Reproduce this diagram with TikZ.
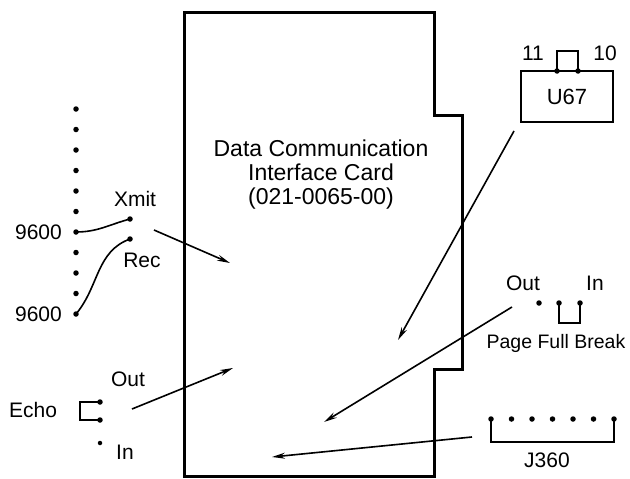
\documentclass[tikz,border=0pt]{standalone}
\usepackage{fontspec}
\setmainfont{Liberation Sans}
\usetikzlibrary{positioning,arrows.meta}

\begin{document}
\begin{tikzpicture}[x=1pt,y=-1pt]
	% Define styles
	\tikzstyle{contact} = [circle, fill=black, inner sep=0pt, minimum size=5.5pt]
	\tikzstyle{lbl} = [inner sep=0pt, font=\fontsize{21}{24}\selectfont]
	\tikzstyle{cardtitle} = [lbl, align=center, font=\fontsize{23}{24}\selectfont]
	\tikzstyle{chip} = [rectangle, draw, line width=1.6pt, minimum width=92pt, minimum height=51pt, font=\fontsize{22}{24}\selectfont]
	\tikzstyle{wire} = [line width=1.6pt]
	\tikzstyle{arrow} = [line width=1.6pt,-{Stealth[length=13pt,width=6pt]}]
	\tikzstyle{cardedge} = [line width=3pt, line join=miter]
	
	\useasboundingbox (0,0) rectangle (630,479);
	
	% Card outline
	\draw [cardedge] (184,12) -- (434,12) -- (434,115) -- (462,115) -- (462,369)
		-- (434,369) -- (434,476) -- (184,476) -- cycle;
	\node [cardtitle] (cardname) at (321,175) {Data Communication\\Interface Card\\(021-0065-00)};
	
	% Baud rate strip
	\foreach \i in {0,...,10}
		\node [contact] (rate\i) at (76,109+20.5*\i) {};
	\node [lbl, left=11pt of rate6] (rateA) {9600};
	\node [lbl, left=11pt of rate10] (rateB) {9600};
	\node [contact] (xmit) at (130,219) {};
	\node [contact] (rec) at (130,239) {};
	\node [lbl] (xmitname) at (135,199) {Xmit};
	\node [lbl] (recname) at (142,260) {Rec};
	
	% Echo
	\node [lbl] (echoname) at (33,410) {Echo};
	\node [contact] (echoOut) at (100,402) {};
	\node [contact] (echoMid) at (100,420) {};
	\node [contact, minimum size=4.5pt] (echoIn) at (100,443) {};
	\node [lbl] (echoOutname) at (128,379) {Out};
	\node [lbl] (echoInname) at (125,452) {In};
	
	% U67
	\node [chip] (u67) at (567,96.5) {U67};
	\node [contact] (pin11) at (557,71) {};
	\node [contact] (pin10) at (578,71) {};
	\node [lbl] (pin11name) at (533,53) {11};
	\node [lbl] (pin10name) at (605,53) {10};
	
	% Page Full Break
	\node [contact] (pfbOut) at (539,303) {};
	\node [contact] (pfbMid) at (559,303) {};
	\node [contact] (pfbIn) at (580,303) {};
	\node [lbl] (pfbOutname) at (523,283) {Out};
	\node [lbl] (pfbInname) at (595,283) {In};
	\node [lbl, font=\fontsize{19.5}{24}\selectfont] (pfbname) at (556,343) {Page Full Break};
	
	% J360
	\foreach \i in {0,...,6}
		\node [contact] (j\i) at (491+20.5*\i,419) {};
	\node [lbl] (jname) at (547,460) {J360};
	
	% Jumpers
	\draw [wire] (rate6.center) to[out=0,in=195] (xmit.center);
	\draw [wire] (rate10.center) to[out=50,in=200] (rec.center);
	\draw [wire] (echoOut.center) -- ++(-20,0) |- (echoMid.center);
	\draw [wire] (pin11.center) -- ++(0,-20) -| (pin10.center);
	\draw [wire] (pfbMid.center) -- ++(0,20) -| (pfbIn.center);
	\draw [wire] (j0.center) -- ++(0,23) -| (j6.center);
	
	% Arrow ends
	\coordinate (xmitfrom) at (154,230);
	\coordinate (xmitto) at (230,263);
	\coordinate (echofrom) at (132,409);
	\coordinate (echoto) at (233,368);
	\coordinate (u67from) at (514,131);
	\coordinate (u67to) at (398,340);
	\coordinate (pfbfrom) at (512,307);
	\coordinate (pfbto) at (324,422);
	\coordinate (jfrom) at (472,437);
	\coordinate (jto) at (272,457);
	
	% Draw arrows
	\draw [arrow] (xmitfrom) -- (xmitto);
	\draw [arrow] (echofrom) -- (echoto);
	\draw [arrow] (u67from) -- (u67to);
	\draw [arrow] (pfbfrom) -- (pfbto);
	\draw [arrow] (jfrom) -- (jto);
\end{tikzpicture}
\end{document}
